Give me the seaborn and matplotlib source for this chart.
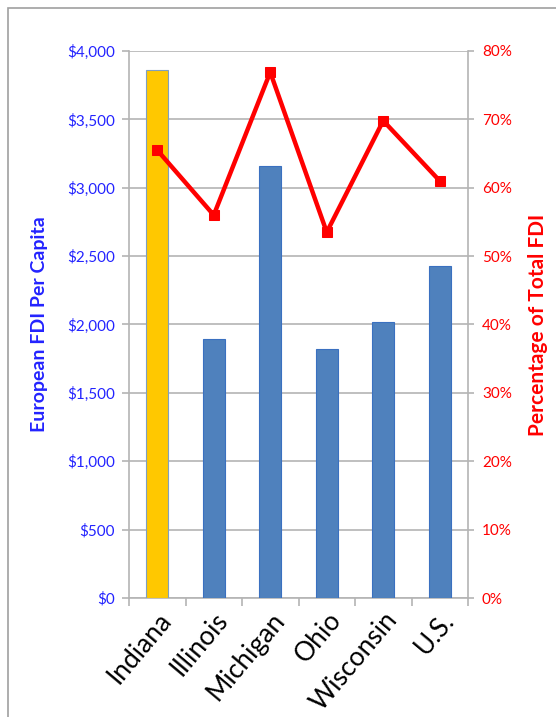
import matplotlib
matplotlib.use("Agg")
import matplotlib.pyplot as plt
import seaborn as sns
import pandas as pd
import numpy as np
from matplotlib.patches import Rectangle
from matplotlib.ticker import FuncFormatter, MultipleLocator, FixedLocator

sns.set_theme(style="white")
plt.rcParams["font.family"] = ["Lato", "DejaVu Sans"]

# ---------------------------------------------------------------
# Data
# ---------------------------------------------------------------
states = ["Indiana", "Illinois", "Michigan", "Ohio", "Wisconsin", "U.S."]
fdi_per_capita = [3864, 1893, 3162, 1820, 2017, 2426]
pct_total_fdi = [65.5, 56.0, 76.9, 53.5, 69.8, 61.0]

BLUE_TXT = "#2323ff"
RED = "#ff0000"
GRID = "#b4b4b4"

df = pd.DataFrame({"state": states, "fdi": fdi_per_capita, "pct": pct_total_fdi})
bar_colors = {s: ("#ffc800" if s == "Indiana" else "#4f81bd") for s in states}

fig = plt.figure(figsize=(5.56, 7.17), dpi=100)
ax = fig.add_axes([129 / 556, 1 - 598 / 717, (468 - 129) / 556, (598 - 51) / 717])

# outer chart frame (only top/left visible in the crop)
fig.patches.append(Rectangle((7.5 / 556, -0.1), 1.2, 1 - 7.5 / 717 + 0.1,
                             transform=fig.transFigure, fill=False,
                             edgecolor="#a0a0a0", linewidth=1.2, zorder=0))

sns.barplot(data=df, x="state", y="fdi", hue="state", palette=bar_colors,
            legend=False, width=0.39, saturation=1, ax=ax, zorder=3)
for p, s in zip(ax.patches, states):
    p.set_edgecolor("#7f9fbf" if s == "Indiana" else "#3a70c0")
    p.set_linewidth(0.8)

ax.set_ylim(0, 4000)
ax.set_xlim(-0.5, len(states) - 0.5)
ax.yaxis.set_major_locator(MultipleLocator(500))
ax.yaxis.set_major_formatter(FuncFormatter(lambda v, _: f"${v:,.0f}"))
ax.grid(axis="y", color=GRID, linewidth=1.2, zorder=0)
ax.set_axisbelow(True)

ax.set_xlabel("")
ax.set_ylabel("European FDI Per Capita", color=BLUE_TXT, fontsize=14,
              fontweight="bold", labelpad=14)
ax.tick_params(axis="y", colors=GRID, labelcolor=BLUE_TXT, labelsize=11,
               length=5, width=1.2, left=True, pad=5)
ax.set_xticks(range(len(states)))
ax.set_xticklabels(states, rotation=50, ha="right", rotation_mode="anchor",
                   fontsize=19, color="black")
ax.tick_params(axis="x", which="major", length=0, pad=7)
ax.xaxis.set_minor_locator(FixedLocator(np.arange(-0.5, len(states), 1.0)))
ax.tick_params(axis="x", which="minor", length=6, width=1.2, color=GRID, bottom=True)

for side in ["left", "bottom", "right"]:
    ax.spines[side].set_color(GRID)
    ax.spines[side].set_linewidth(1.2)
ax.spines["top"].set_visible(False)

# secondary axis: share of total FDI
ax2 = ax.twinx()
sns.lineplot(data=df, x="state", y="pct", color=RED, linewidth=3.2, marker="s",
             markersize=7.5, markeredgecolor=RED, ax=ax2, sort=False, zorder=5)
ax2.set_ylim(0, 80)
ax2.yaxis.set_major_locator(MultipleLocator(10))
ax2.yaxis.set_major_formatter(FuncFormatter(lambda v, _: f"{v:.0f}%"))
ax2.set_ylabel("Percentage of Total FDI", color=RED, fontsize=15,
               fontweight="bold", labelpad=12)
ax2.tick_params(axis="y", colors=GRID, labelcolor=RED, labelsize=11,
                length=4, width=1.2, right=True, pad=6)
ax2.set_xlabel("")
for side in ["left", "bottom", "right", "top"]:
    ax2.spines[side].set_visible(False)

fig.savefig("out.png", dpi=100, facecolor="white")
